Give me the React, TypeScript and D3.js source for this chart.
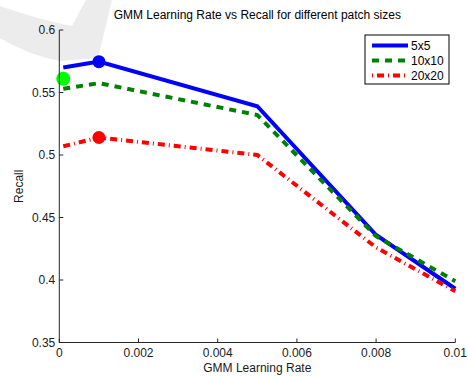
import React from 'react';
import * as d3 from 'd3';

const rates = [0.0001, 0.001, 0.005, 0.008, 0.01];
const recall5 = [0.570, 0.5747, 0.539, 0.436, 0.393];
const recall10 = [0.553, 0.5575, 0.532, 0.435, 0.399];
const recall20 = [0.507, 0.514, 0.500, 0.426, 0.391];

const xTicks = [0, 0.002, 0.004, 0.006, 0.008, 0.01];
const xTickLabels = ['0', '0.002', '0.004', '0.006', '0.008', '0.01'];
const yTicks = [0.35, 0.4, 0.45, 0.5, 0.55, 0.6];
const yTickLabels = ['0.35', '0.4', '0.45', '0.5', '0.55', '0.6'];

const seriesNames = ['5x5', '10x10', '20x20'];
const markerX = [0.001, 0.0001, 0.001];
const markerY = [0.5747, 0.561, 0.514];

const width = 468;
const height = 376;
const left = 59.3;
const right = 455.3;
const top = 30;
const bottom = 342.5;

const font = '"Liberation Sans", Arial, Helvetica, sans-serif';

export default function App() {
  const x = d3.scaleLinear().domain([0, 0.01]).range([left, right]);
  const y = d3.scaleLinear().domain([0.35, 0.6]).range([bottom, top]);

  const line = d3.line<number>()
    .x((d, i) => x(rates[i]))
    .y(d => y(d));

  // line styles per series
  const styles = [
    { color: '#0000ff', dash: undefined as string | undefined, values: recall5 },
    { color: '#008000', dash: '7,6', values: recall10 },
    { color: '#ff0000', dash: '7,4,1,4', values: recall20 },
  ];
  const markerColors = ['#0000ff', '#00ff00', '#ff0000'];
  const markerR = [6.5, 7, 6.5];

  return (
    <svg width={width} height={height} style={{ position: 'absolute', left: 0, top: 0, background: '#fff' }}>
      {/* faint watermark */}
      <path d="M0,6 Q40,20 72,26 L86,0 L112,0 L98,58 L60,61 Q25,54 0,38 Z" fill="#ececec" />

      <text x={(left + right) / 2} y={19} textAnchor="middle" fontFamily={font} fontSize={12} fill="#000">
        GMM Learning Rate vs Recall for different patch sizes
      </text>

      {styles.map((s, i) => (
        <path key={i} d={line(s.values) || ''} fill="none" stroke={s.color} strokeWidth={4}
          strokeDasharray={s.dash} strokeLinejoin="miter" />
      ))}

      {markerX.map((mx, i) => (
        <circle key={i} cx={x(mx)} cy={y(markerY[i])} r={markerR[i]} fill={markerColors[i]} />
      ))}

      {/* axes */}
      <g stroke="#262626" strokeWidth={1} fill="none">
        <line x1={left} y1={top} x2={left} y2={bottom} />
        <line x1={left} y1={bottom} x2={right} y2={bottom} />
        {yTicks.map((t, i) => (
          <line key={'yt' + i} x1={left} x2={left + 4} y1={y(t)} y2={y(t)} />
        ))}
        {xTicks.map((t, i) => (
          <line key={'xt' + i} x1={x(t)} x2={x(t)} y1={bottom} y2={bottom - 4} />
        ))}
      </g>
      <g fontFamily={font} fontSize={12} fill="#1a1a1a">
        {yTicks.map((t, i) => (
          <text key={'yl' + i} x={left - 4} y={y(t) + 4} textAnchor="end">{yTickLabels[i]}</text>
        ))}
        {xTicks.map((t, i) => (
          <text key={'xl' + i} x={x(t)} y={bottom + 14} textAnchor="middle">{xTickLabels[i]}</text>
        ))}
        <text x={(left + right) / 2} y={372} textAnchor="middle">GMM Learning Rate</text>
        <text transform={`translate(23,${(top + bottom) / 2}) rotate(-90)`} textAnchor="middle">Recall</text>
      </g>

      {/* legend */}
      <rect x={365} y={35} width={84} height={49} fill="#fff" stroke="#000" strokeWidth={1} />
      {styles.map((s, i) => {
        const ly = 45.5 + i * 15;
        return (
          <g key={'lg' + i}>
            <line x1={372} x2={408} y1={ly} y2={ly} stroke={s.color} strokeWidth={4}
              strokeDasharray={i === 2 ? '1,4,7,4' : s.dash} />
            <text x={411} y={ly + 4} fontFamily={font} fontSize={12} fill="#000">{seriesNames[i]}</text>
          </g>
        );
      })}
    </svg>
  );
}
